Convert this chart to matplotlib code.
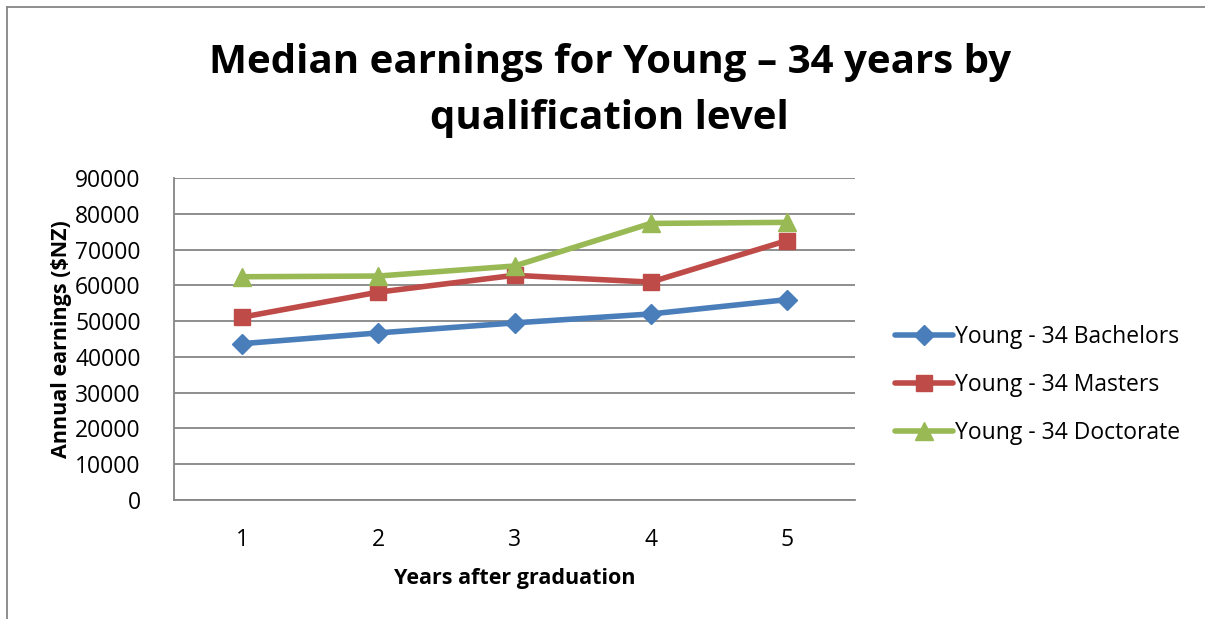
import matplotlib
matplotlib.use("Agg")
import matplotlib.pyplot as plt
from matplotlib.lines import Line2D

plt.rcParams['font.family'] = ['Open Sans', 'DejaVu Sans']

years = [1, 2, 3, 4, 5]
year_labels = ["1", "2", "3", "4", "5"]
bachelors = [43700, 46700, 49500, 52000, 56000]
masters = [51100, 58100, 62800, 60900, 72500]
doctorate = [62400, 62600, 65400, 77300, 77600]
series_names = ["Young - 34 Bachelors", "Young - 34 Masters", "Young - 34 Doctorate"]
y_ticks = [0, 10000, 20000, 30000, 40000, 50000, 60000, 70000, 80000, 90000]

colors = ["#4A7EBB", "#BE4B48", "#98B954"]
markers = ["D", "s", "^"]
msizes = [10, 12, 13]

fig = plt.figure(figsize=(12.05, 6.19), dpi=100)
ax = fig.add_axes([174/1205, 1-500/619, (855-174)/1205, (500-178)/619])

for vals, c, m, ms, name in zip([bachelors, masters, doctorate], colors, markers, msizes, series_names):
    ax.plot(years, vals, color=c, lw=4, marker=m, markersize=ms, label=name,
            solid_capstyle='round', zorder=3)

ax.set_xlim(0.5, 5.5)
ax.set_ylim(0, 90000)
ax.set_yticks(y_ticks)
ax.set_yticklabels([str(v) for v in y_ticks], fontsize=16.5)
ax.set_xticks(years)
ax.set_xticklabels(year_labels, fontsize=16.5)
ax.tick_params(axis='x', length=0, pad=20)
ax.tick_params(axis='y', length=0, pad=24)
ax.grid(axis='y', color='#868686', lw=1.3)
ax.set_axisbelow(True)
for s in ['top', 'right']:
    ax.spines[s].set_visible(False)
for s in ['left', 'bottom']:
    ax.spines[s].set_color('#868686')
    ax.spines[s].set_linewidth(1.3)

ax.set_xlabel("Years after graduation", fontsize=15.5, fontweight='bold', labelpad=12)
ax.set_ylabel("Annual earnings ($NZ)", fontsize=15.5, fontweight='bold', labelpad=2)

fig.text(0.506, 1-62/619, "Median earnings for Young – 34 years by", ha='center', va='center',
         fontsize=29, fontweight='bold')
fig.text(0.506, 1-118/619, "qualification level", ha='center', va='center',
         fontsize=29, fontweight='bold')

leg = ax.legend(loc='center left', bbox_to_anchor=(1.029, 0.357), frameon=False, fontsize=16.5,
                handlelength=2.5, labelspacing=1.05, handletextpad=0.1)

# outer chart border (top and left visible)
fig.add_artist(Line2D([7/1205, 1], [1-7/619, 1-7/619], color='#868686', lw=1.3, transform=fig.transFigure))
fig.add_artist(Line2D([7/1205, 7/1205], [0, 1-7/619], color='#868686', lw=1.3, transform=fig.transFigure))

fig.savefig("out.png", dpi=100)
